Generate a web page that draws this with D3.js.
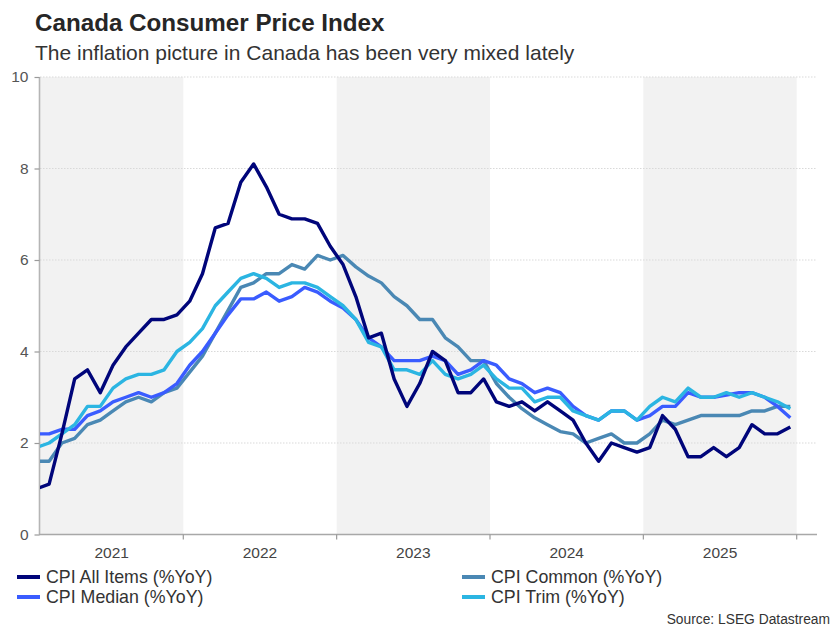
<!DOCTYPE html>
<html>
<head>
<meta charset="utf-8">
<script src="https://cdn.jsdelivr.net/npm/d3@7"></script>
<style>
  html, body { margin: 0; padding: 0; background: #fff; }
  svg { display: block; font-family: "Liberation Sans", Arial, sans-serif; }
</style>
</head>
<body>
<svg id="chart" width="840" height="629"></svg>
<script>
// ---------- data ----------
const years = ["2021", "2022", "2023", "2024", "2025"];
const yTicks = [0, 2, 4, 6, 8, 10];

const cpiAllItems = [
  1.0, 1.1, 2.2, 3.4, 3.6, 3.1, 3.7, 4.1, 4.4, 4.7, 4.7, 4.8,
  5.1, 5.7, 6.7, 6.8, 7.7, 8.1, 7.6, 7.0, 6.9, 6.9, 6.8, 6.3,
  5.9, 5.2, 4.3, 4.4, 3.4, 2.8, 3.3, 4.0, 3.8, 3.1, 3.1, 3.4,
  2.9, 2.8, 2.9, 2.7, 2.9, 2.7, 2.5, 2.0, 1.6, 2.0, 1.9, 1.8,
  1.9, 2.6, 2.3, 1.7, 1.7, 1.9, 1.7, 1.9, 2.4, 2.2, 2.2, 2.35
];
const cpiCommon = [
  1.6, 1.6, 2.0, 2.1, 2.4, 2.5, 2.7, 2.9, 3.0, 2.9, 3.1, 3.2,
  3.55, 3.9, 4.4, 4.9, 5.4, 5.5, 5.7, 5.7, 5.9, 5.8, 6.1, 6.0,
  6.1, 5.85, 5.65, 5.5, 5.2, 5.0, 4.7, 4.7, 4.3, 4.1, 3.8, 3.8,
  3.3, 3.0, 2.75, 2.55, 2.4, 2.25, 2.2, 2.0, 2.1, 2.2, 2.0, 2.0,
  2.2, 2.5, 2.4, 2.5, 2.6, 2.6, 2.6, 2.6, 2.7, 2.7, 2.8, 2.8
];
const cpiMedian = [
  2.2, 2.2, 2.3, 2.3, 2.6, 2.7, 2.9, 3.0, 3.1, 3.0, 3.1, 3.3,
  3.7, 4.0, 4.4, 4.8, 5.15, 5.15, 5.3, 5.1, 5.2, 5.4, 5.3, 5.1,
  4.95, 4.7, 4.3, 4.1, 3.8, 3.8, 3.8, 3.9, 3.8, 3.5, 3.6, 3.8,
  3.7, 3.4, 3.3, 3.1, 3.2, 3.1, 2.8, 2.6, 2.5, 2.7, 2.7, 2.5,
  2.6, 2.8, 2.8, 3.1, 3.0, 3.0, 3.05, 3.1, 3.1, 3.0, 2.8, 2.55
];
const cpiTrim = [
  1.9, 2.0, 2.2, 2.4, 2.8, 2.8, 3.2, 3.4, 3.5, 3.5, 3.6, 4.0,
  4.2, 4.5, 5.0, 5.3, 5.6, 5.7, 5.6, 5.4, 5.5, 5.5, 5.4, 5.2,
  5.0, 4.7, 4.2, 4.1, 3.6, 3.6, 3.5, 3.8, 3.5, 3.4, 3.5, 3.7,
  3.4, 3.2, 3.2, 2.9, 3.0, 3.0, 2.7, 2.6, 2.5, 2.7, 2.7, 2.5,
  2.8, 3.0, 2.9, 3.2, 3.0, 3.0, 3.1, 3.0, 3.1, 3.0, 2.9, 2.75
];

const seriesNames = ["CPI All Items (%YoY)", "CPI Common (%YoY)", "CPI Median (%YoY)", "CPI Trim (%YoY)"];
const seriesValues = [cpiAllItems, cpiCommon, cpiMedian, cpiTrim];
const seriesColors = ["#00057a", "#4a88b4", "#3a5cff", "#2bb5e2"];
const drawOrder = [1, 2, 3, 0];

// ---------- layout ----------
const svg = d3.select("#chart");
const plot = { left: 40, right: 817, top: 77, bottom: 534.5 };

const x = d3.scaleLinear().domain([0, years.length * 12]).range([29.95, 796.7]);
const y = d3.scaleLinear().domain([0, 10]).range([plot.bottom, plot.top]);

svg.append("defs").append("clipPath").attr("id", "clip")
  .append("rect")
  .attr("x", plot.left).attr("y", plot.top - 10)
  .attr("width", plot.right - plot.left).attr("height", plot.bottom - plot.top + 10);

// alternating year shading
svg.append("g").attr("clip-path", "url(#clip)")
  .selectAll("rect")
  .data(years.map((yr, i) => i).filter(i => i % 2 === 0))
  .join("rect")
  .attr("x", i => x(i * 12))
  .attr("width", i => x(i * 12 + 12) - x(i * 12))
  .attr("y", plot.top)
  .attr("height", plot.bottom - plot.top)
  .attr("fill", "#f2f2f2");

// gridlines
svg.append("g").selectAll("line")
  .data(yTicks.filter(t => t > 0))
  .join("line")
  .attr("x1", plot.left).attr("x2", plot.right)
  .attr("y1", d => y(d)).attr("y2", d => y(d))
  .attr("stroke", "#d9d9d9").attr("stroke-width", 1)
  .attr("stroke-dasharray", "1.5,1.5");

// y axis
const yAxis = svg.append("g").attr("transform", `translate(${plot.left - 0.5},0)`)
  .call(d3.axisLeft(y).tickValues(yTicks).tickSize(5).tickPadding(6).tickFormat(d3.format("d")));
yAxis.select(".domain").attr("stroke", "#b5b5b5").attr("stroke-width", 1.6)
  .attr("d", `M0,${plot.top}V${plot.bottom}`);
yAxis.selectAll(".tick line").attr("stroke", "#9a9a9a").attr("stroke-width", 1.2);
yAxis.selectAll(".tick text").attr("fill", "#555").attr("font-size", "15.5px")
  .attr("font-family", "Liberation Sans, Arial, sans-serif");

// x axis
const xg = svg.append("g");
xg.append("line")
  .attr("x1", plot.left - 1).attr("x2", plot.right)
  .attr("y1", plot.bottom).attr("y2", plot.bottom)
  .attr("stroke", "#a8a8a8").attr("stroke-width", 1.6);
xg.selectAll("line.tick")
  .data(years.map((yr, i) => (i + 1) * 12))
  .join("line").attr("class", "tick")
  .attr("x1", d => x(d)).attr("x2", d => x(d))
  .attr("y1", plot.bottom).attr("y2", plot.bottom + 5)
  .attr("stroke", "#9a9a9a").attr("stroke-width", 1.2);
xg.selectAll("text")
  .data(years)
  .join("text")
  .attr("x", (d, i) => (Math.max(x(i * 12), plot.left) + x(i * 12 + 12)) / 2)
  .attr("y", plot.bottom + 23)
  .attr("text-anchor", "middle")
  .attr("fill", "#444").attr("font-size", "15.5px")
  .text(d => d);

// lines
const line = d3.line()
  .x((d, i) => x(i + 0.5))
  .y(d => y(d));

svg.append("g").attr("clip-path", "url(#clip)")
  .selectAll("path")
  .data(drawOrder)
  .join("path")
  .attr("d", k => line(seriesValues[k]))
  .attr("fill", "none")
  .attr("stroke", k => seriesColors[k])
  .attr("stroke-width", 3.4)
  .attr("stroke-linejoin", "round")
  .attr("stroke-linecap", "butt");

// title
svg.append("text").attr("x", 35).attr("y", 31)
  .attr("font-size", "24.2px").attr("font-weight", "bold").attr("fill", "#262626")
  .text("Canada Consumer Price Index");
svg.append("text").attr("x", 35).attr("y", 60)
  .attr("font-size", "21px").attr("fill", "#333")
  .text("The inflation picture in Canada has been very mixed lately");

// legend
const legendPos = [[17, 577], [462, 577], [17, 597], [462, 597]];
const lg = svg.append("g").selectAll("g")
  .data(seriesNames.map((n, i) => i))
  .join("g")
  .attr("transform", i => `translate(${legendPos[i][0]},${legendPos[i][1]})`);
lg.append("line")
  .attr("x1", 0).attr("x2", 23).attr("y1", 0).attr("y2", 0)
  .attr("stroke", i => seriesColors[i]).attr("stroke-width", 4);
lg.append("text")
  .attr("x", 29).attr("y", 6)
  .attr("font-size", "17.8px").attr("fill", "#333")
  .text(i => seriesNames[i]);

// source
svg.append("text").attr("x", 830).attr("y", 624)
  .attr("text-anchor", "end").attr("font-size", "13.8px").attr("fill", "#333")
  .text("Source: LSEG Datastream");
</script>
</body>
</html>
